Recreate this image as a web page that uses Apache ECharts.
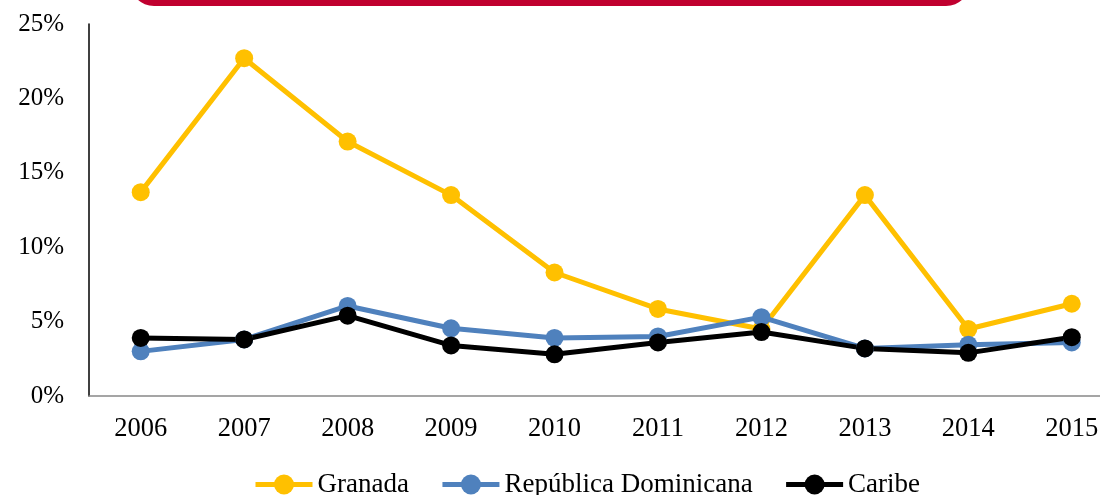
<!DOCTYPE html>
<html>
<head>
<meta charset="utf-8">
<script src="https://cdn.jsdelivr.net/npm/echarts@6/dist/echarts.min.js"></script>
<style>
  html, body { margin: 0; padding: 0; background: #fff; }
  #chart { width: 1100px; height: 495px; }
</style>
</head>
<body>
<div id="chart"></div>
<script>
  // datos (%)
  var years = ['2006', '2007', '2008', '2009', '2010', '2011', '2012', '2013', '2014', '2015'];
  var granada = [13.7, 22.7, 17.1, 13.5, 8.3, 5.85, 4.5, 13.5, 4.5, 6.2];
  var repDominicana = [3.0, 3.8, 6.05, 4.55, 3.9, 4.0, 5.3, 3.2, 3.45, 3.6];
  var caribe = [3.9, 3.8, 5.4, 3.4, 2.8, 3.6, 4.3, 3.2, 2.9, 3.95];
  var yTicks = [0, 5, 10, 15, 20, 25];

  var font = '"Liberation Serif", "Times New Roman", serif';
  var myChart = echarts.init(document.getElementById('chart'));

  function serie(name, data, color) {
    return {
      name: name,
      type: 'line',
      data: data,
      symbol: 'circle',
      symbolSize: 18,
      lineStyle: { width: 5, color: color },
      itemStyle: { color: color },
      emphasis: { disabled: true }
    };
  }

  var option = {
    animation: false,
    textStyle: { fontFamily: font },
    // el eje se sale por la derecha como en la imagen original
    grid: { left: 89, top: 24, width: 1034.5, bottom: 99, outerBoundsMode: 'none' },
    graphic: [{
      type: 'rect',
      shape: { x: 130, y: -50, width: 840, height: 56, r: 24 },
      style: { fill: '#C0002F' }
    }],
    legend: {
      left: 253,
      top: 471,
      padding: 0,
      itemWidth: 57,
      itemHeight: 25,
      itemGap: 31,
      lineStyle: { width: 5 },
      textStyle: { fontFamily: font, fontSize: 27, color: '#000' },
      data: ['Granada', 'República Dominicana', 'Caribe']
    },
    xAxis: {
      type: 'category',
      data: years,
      axisLine: { lineStyle: { color: '#888', width: 1.5 } },
      axisTick: { show: false },
      axisLabel: { margin: 20, fontFamily: font, fontSize: 26.5, color: '#000' }
    },
    yAxis: {
      type: 'value',
      min: yTicks[0],
      max: yTicks[yTicks.length - 1],
      interval: 5,
      axisLine: { show: true, lineStyle: { color: '#000', width: 1.5 } },
      axisTick: { show: false },
      splitLine: { show: false },
      axisLabel: {
        margin: 25, fontFamily: font, fontSize: 25, color: '#000',
        formatter: function (v) { return v + '%'; }
      }
    },
    series: [
      serie('Granada', granada, '#FFC000'),
      serie('República Dominicana', repDominicana, '#4F81BD'),
      serie('Caribe', caribe, '#000000')
    ]
  };

  myChart.setOption(option);
</script>
</body>
</html>
